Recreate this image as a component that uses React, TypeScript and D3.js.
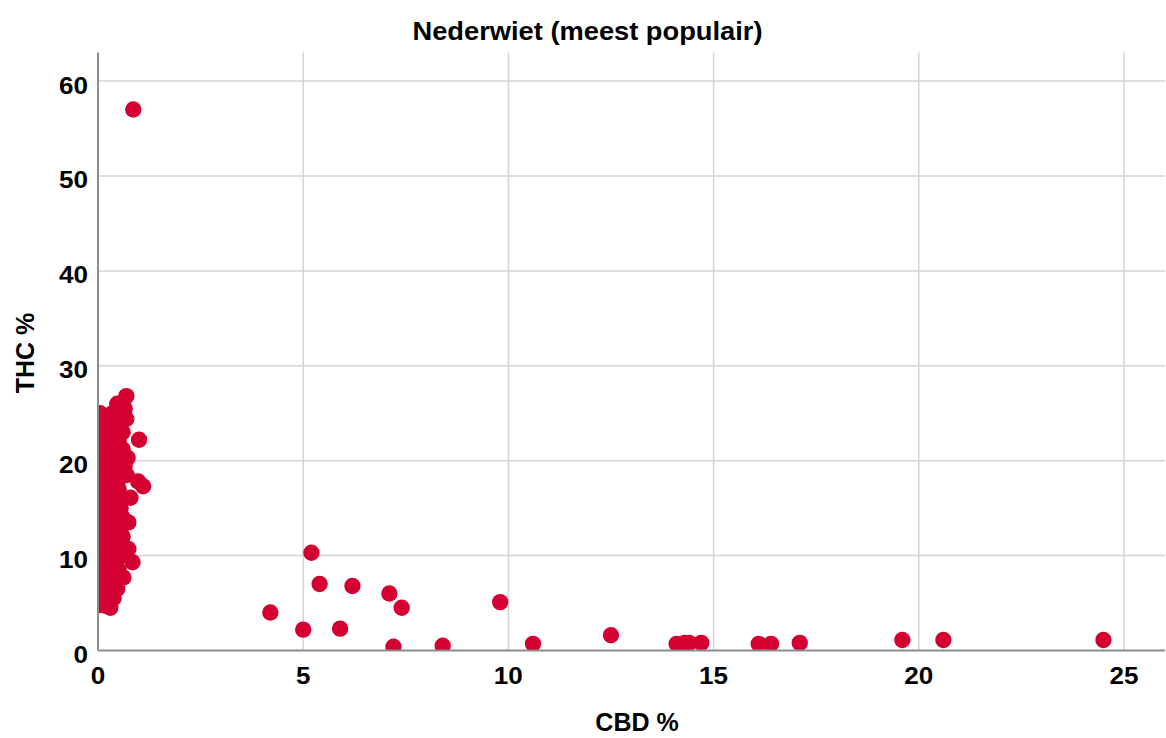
import React from "react";
import * as d3 from "d3";

const TITLE = "Nederwiet (meest populair)";
const X_LABEL = "CBD %";
const Y_LABEL = "THC %";
const X_TICKS = [0, 5, 10, 15, 20, 25];
const Y_TICKS = [0, 10, 20, 30, 40, 50, 60];

// CBD % values
const cbd = [
  // dense cluster, near zero CBD
  0.05, 0.05, 0.05, 0.05, 0.05, 0.05, 0.05, 0.05, 0.05, 0.05, 0.05, 0.05, 0.05, 0.05, 0.05, 0.05, 0.05, 0.05, 0.05, 0.05, 0.05,
  0.2, 0.2, 0.2, 0.2, 0.2, 0.2, 0.2, 0.2, 0.2, 0.2, 0.2, 0.2, 0.2, 0.2, 0.2, 0.2, 0.2, 0.2, 0.2, 0.2, 0.2,
  0.3, 0.38, 0.35, 0.35, 0.35, 0.35, 0.35, 0.35, 0.35, 0.35, 0.35, 0.35, 0.35, 0.35, 0.35, 0.35, 0.35, 0.35, 0.35, 0.35, 0.35, 0.35,
  0.47, 0.5, 0.5, 0.5, 0.5, 0.5, 0.5, 0.5, 0.5, 0.5, 0.5, 0.5, 0.5, 0.5, 0.5, 0.5, 0.5, 0.47,
  0.62, 0.74, 0.84, 0.74, 0.6, 0.79, 0.98, 1.1, 0.7, 0.65, 0.72, 0.6, 1.0, 0.6, 0.69, 0.69, 0.55, 0.6, 0.55, 0.65,
  // outliers
  0.86,
  4.2, 5.0, 5.2, 5.4, 5.9, 6.2, 7.1, 7.2, 7.4, 8.4, 9.8, 10.6, 12.5,
  14.1, 14.3, 14.4, 14.7, 16.1, 16.4, 17.1, 19.6, 20.6, 24.5,
];

// THC % values
const thc = [
  4.8, 5.8, 6.8, 7.8, 8.8, 9.8, 10.8, 11.8, 12.8, 13.8, 14.8, 15.8, 16.8, 17.8, 18.8, 19.8, 20.8, 21.8, 22.8, 23.8, 25.0,
  4.7, 5.6, 6.6, 7.6, 8.6, 9.6, 10.6, 11.6, 12.6, 13.6, 14.6, 15.6, 16.6, 17.6, 18.6, 19.6, 20.6, 21.6, 22.6, 23.6, 24.6,
  4.5, 5.5, 6.3, 7.2, 8.3, 9.2, 10.2, 11.2, 12.2, 13.2, 14.2, 15.2, 16.2, 17.2, 18.2, 19.2, 20.2, 21.2, 22.2, 23.2, 24.2, 25.0,
  6.5, 8.5, 9.8, 11.0, 12.0, 13.0, 14.2, 15.0, 16.0, 17.0, 18.0, 19.0, 20.0, 21.0, 22.0, 23.0, 24.5, 26.0,
  7.7, 10.7, 9.3, 13.5, 12.0, 16.1, 17.8, 17.3, 18.5, 19.5, 20.3, 21.2, 22.2, 23.0, 24.4, 26.8, 15.0, 14.0, 11.5, 25.5,
  57.0,
  4.0, 2.2, 10.3, 7.0, 2.3, 6.8, 6.0, 0.4, 4.5, 0.5, 5.1, 0.7, 1.6,
  0.7, 0.8, 0.8, 0.8, 0.7, 0.7, 0.8, 1.1, 1.1, 1.1,
];

const W = 1166;
const H = 738;
const LEFT = 98;
const RIGHT = 1165;
const TOP = 52.6;
const BOTTOM = 650.5;

export default function App() {
  const x = d3.scaleLinear().domain([0, 26]).range([LEFT, RIGHT]);
  const y = d3.scaleLinear().domain([0, 63]).range([BOTTOM, TOP]);
  const pts = cbd.map((c, i) => ({ c, t: thc[i] }));
  const font = "'Liberation Sans', Arial, sans-serif";
  const red = "#D50032";

  return (
    <svg
      width={W}
      height={H}
      style={{ position: "absolute", left: 0, top: 0, background: "#fff" }}
      fontFamily={font}
    >
      <defs>
        <clipPath id="plotclip">
          <rect x={LEFT} y={TOP} width={RIGHT - LEFT} height={BOTTOM - TOP} />
        </clipPath>
      </defs>
      <rect x={0} y={0} width={W} height={H} fill="#fff" />

      {/* gridlines */}
      {X_TICKS.filter((v) => v > 0).map((v) => (
        <line key={"gx" + v} x1={x(v)} x2={x(v)} y1={TOP} y2={BOTTOM} stroke="#d4d4d4" strokeWidth={1.5} />
      ))}
      {Y_TICKS.filter((v) => v > 0).map((v) => (
        <line key={"gy" + v} x1={LEFT} x2={RIGHT} y1={y(v)} y2={y(v)} stroke="#d4d4d4" strokeWidth={1.5} />
      ))}

      {/* points */}
      <g clipPath="url(#plotclip)">
        {pts.map((p, i) => (
          <circle key={i} cx={x(p.c)} cy={y(p.t)} r={8.2} fill={red} />
        ))}
      </g>

      {/* axes */}
      <line x1={LEFT} x2={LEFT} y1={TOP} y2={BOTTOM} stroke="#8c8c8c" strokeWidth={2} />
      <line x1={LEFT} x2={RIGHT} y1={BOTTOM} y2={BOTTOM} stroke="#8c8c8c" strokeWidth={2} />

      {/* tick labels */}
      {Y_TICKS.map((v) => (
        <text
          key={"ty" + v}
          x={88}
          y={y(v) + 12.5}
          textAnchor="end"
          fontSize={23}
          fontWeight="bold"
          fill="#000"
          textLength={String(v).length * 14.5}
          lengthAdjust="spacingAndGlyphs"
        >
          {v}
        </text>
      ))}
      {X_TICKS.map((v) => (
        <text
          key={"tx" + v}
          x={x(v)}
          y={684}
          textAnchor="middle"
          fontSize={23}
          fontWeight="bold"
          fill="#000"
          textLength={String(v).length * 14.5}
          lengthAdjust="spacingAndGlyphs"
        >
          {v}
        </text>
      ))}

      {/* title and axis labels */}
      <text
        x={587.5}
        y={40}
        textAnchor="middle"
        fontSize={26}
        fontWeight="bold"
        fill="#000"
        textLength={350}
        lengthAdjust="spacingAndGlyphs"
      >
        {TITLE}
      </text>
      <text x={637} y={731} textAnchor="middle" fontSize={25} fontWeight="bold" fill="#000">
        {X_LABEL}
      </text>
      <text
        transform={`translate(34,353) rotate(-90)`}
        textAnchor="middle"
        fontSize={25}
        fontWeight="bold"
        fill="#000"
      >
        {Y_LABEL}
      </text>
    </svg>
  );
}
